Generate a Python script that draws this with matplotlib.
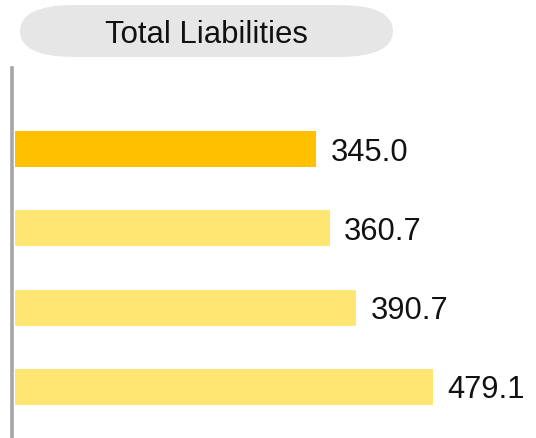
import matplotlib
matplotlib.use("Agg")
import matplotlib.pyplot as plt
from matplotlib.patches import FancyBboxPatch

plt.rcParams["font.family"] = ["Liberation Sans", "DejaVu Sans"]

# ------------------------------------------------------------
# Datos
# ------------------------------------------------------------
titulo = "Total Liabilities"
valores = [345.0, 360.7, 390.7, 479.1]
colores = ["#FFC000", "#FFE571", "#FFE571", "#FFE571"]
etiquetas = ["345.0", "360.7", "390.7", "479.1"]

W, H, DPI = 536, 438, 100
fig = plt.figure(figsize=(W / DPI, H / DPI), dpi=DPI)

# ------------------------------------------------------------
# Título en "píldora" gris (coordenadas en píxeles)
# ------------------------------------------------------------
bg = fig.add_axes([0, 0, 1, 1])
bg.set_xlim(0, W)
bg.set_ylim(H, 0)
bg.axis("off")
pill = FancyBboxPatch((20, 5), 373, 52,
                      boxstyle="round,pad=0,rounding_size=55",
                      mutation_aspect=0.47,
                      facecolor="#E6E6E6", edgecolor="none")
bg.add_patch(pill)
bg.text(206, 43, titulo, ha="center", va="baseline", fontsize=22.4, color="#111111")

# ------------------------------------------------------------
# Barras horizontales
# ------------------------------------------------------------
left, top = 15, 68
ax = fig.add_axes([left / W, 0, (W - left) / W, (H - top) / H])
ax.patch.set_alpha(0)

y = list(range(len(valores)))
ax.barh(y, valores, height=0.455, color=colores, zorder=1)

scale = 0.872  # px por unidad
ax.set_xlim(0, (W - left) / scale)
ax.set_ylim(3.646, -1.025)

for yi, v, lbl in zip(y, valores, etiquetas):
    ax.annotate(lbl, (v, yi), xytext=(10.6, 0), textcoords="offset points",
                ha="left", va="center_baseline", fontsize=22.2, color="#111111",
                annotation_clip=False)

for s in ["top", "right", "bottom"]:
    ax.spines[s].set_visible(False)
ax.spines["left"].set_color("#A6A6A6")
ax.spines["left"].set_linewidth(2.6)
ax.spines["left"].set_position(("outward", 2))
ax.spines["left"].set_zorder(3)
ax.set_xticks([])
ax.set_yticks([])

fig.savefig("out.png", dpi=DPI)
